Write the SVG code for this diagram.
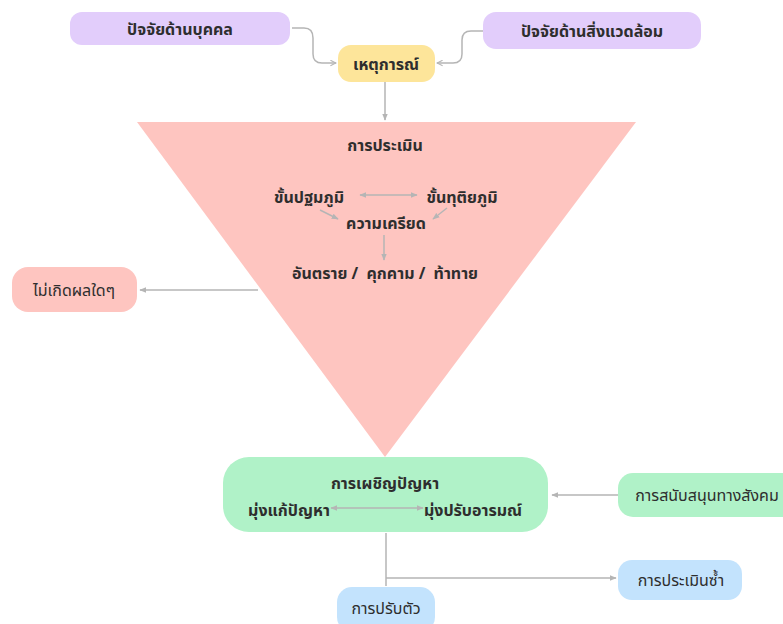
<svg xmlns="http://www.w3.org/2000/svg" width="783" height="624" viewBox="0 0 783 624">
<style>
text{font-family:"Noto Sans","Noto Sans Thai","DejaVu Sans",sans-serif;fill:#2e2e2e;text-anchor:middle;dominant-baseline:central}
.b{font-weight:bold;font-size:16px}
.n{font-size:16px}
.c{fill:none;stroke:#b5b5b5;stroke-width:1.5}
</style>
<defs>
<marker id="a" viewBox="0 0 10 10" refX="9" refY="5" markerWidth="7" markerHeight="7" orient="auto-start-reverse" markerUnits="userSpaceOnUse"><path d="M1,1 L9,5 L1,9" fill="none" stroke="#b5b5b5" stroke-width="1.5"/></marker>
<marker id="f" viewBox="0 0 10 10" refX="9" refY="5" markerWidth="7" markerHeight="7" orient="auto-start-reverse" markerUnits="userSpaceOnUse"><path d="M0,1 L10,5 L0,9 Z" fill="#b5b5b5"/></marker>
</defs>
<g id="triangle"><polygon points="137,122 636,122 385,457" fill="#fec5c0"/></g>
<g id="n-personal"><rect x="70" y="12" width="220" height="33" rx="12" fill="#e2cdfb"/><text class="b" x="180" y="29">ปัจจัยด้านบุคคล</text></g>
<g id="n-env"><rect x="483" y="12" width="218" height="37" rx="13" fill="#e2cdfb"/><text class="b" x="592" y="31">ปัจจัยด้านสิ่งแวดล้อม</text></g>
<g id="n-event"><rect x="338" y="45" width="97" height="37" rx="13" fill="#fde59a"/><text class="b" x="386" y="64">เหตุการณ์</text></g>
<g id="n-appraisal">
<text class="b" x="385" y="145">การประเมิน</text>
<text class="b" x="309" y="197">ขั้นปฐมภูมิ</text>
<text class="b" x="462" y="197">ขั้นทุติยภูมิ</text>
<text class="b" x="386" y="223">ความเครียด</text>
<text class="b" x="385" y="273" xml:space="preserve">อันตราย /  คุกคาม /  ท้าทาย</text>
</g>
<g id="n-none"><rect x="12" y="267" width="125" height="45" rx="16" fill="#fec5c0"/><text class="n" x="74" y="290">ไม่เกิดผลใดๆ</text></g>
<g id="n-coping"><rect x="223" y="457" width="325" height="75" rx="26" fill="#b0f2c8"/>
<text class="b" x="385" y="483">การเผชิญปัญหา</text>
<text class="b" x="289" y="510">มุ่งแก้ปัญหา</text>
<text class="b" x="473" y="510">มุ่งปรับอารมณ์</text>
</g>
<g id="n-social"><rect x="618" y="473" width="180" height="44" rx="15" fill="#b0f2c8"/><text class="n" x="707" y="495">การสนับสนุนทางสังคม</text></g>
<g id="n-reappraisal"><rect x="618" y="560" width="124" height="40" rx="14" fill="#c3e3fd"/><text class="n" x="681" y="580">การประเมินซ้ำ</text></g>
<g id="n-adapt"><rect x="337" y="587" width="98" height="45" rx="15" fill="#c3e3fd"/><text class="n" x="386" y="608">การปรับตัว</text></g>
<g id="connectors">
<path class="c" d="M292,28 H304 Q313,28 313,38 V54 Q313,63 322,63 H336" marker-end="url(#a)"/>
<path class="c" d="M483,31 H471 Q462,31 462,40 V54 Q462,63 453,63 H437" marker-end="url(#a)"/>
<path class="c" d="M385,82 V120" marker-end="url(#f)"/>
<path class="c" d="M360,195 H417" marker-start="url(#f)" marker-end="url(#f)"/>
<path class="c" d="M320,210 L338,219" marker-end="url(#f)"/>
<path class="c" d="M447,208 L433,219" marker-end="url(#f)"/>
<path class="c" d="M384,235 V260" marker-end="url(#f)"/>
<path class="c" d="M258,290 H140" marker-end="url(#f)"/>
<path class="c" d="M331,508 H423" marker-start="url(#f)" marker-end="url(#f)"/>
<path class="c" d="M618,495 H552" marker-end="url(#f)"/>
<path class="c" d="M386,533 V586"/>
<path class="c" d="M386,578 H616" marker-end="url(#f)"/>
</g>
</svg>
